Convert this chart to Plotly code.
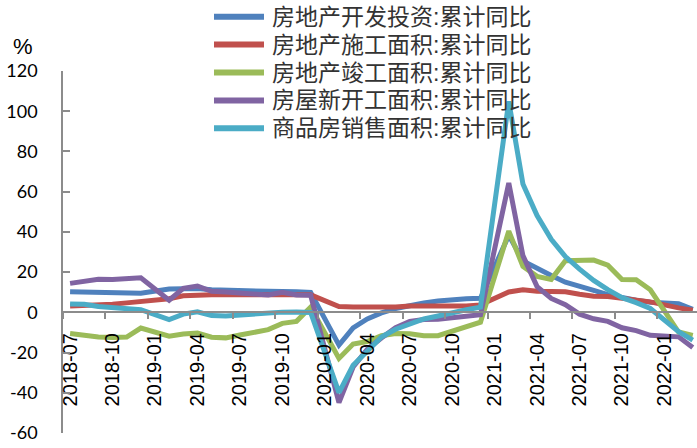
import plotly.graph_objects as go

# Monthly axis categories (January is folded into the Jan-Feb release)
months = [
    "2018-07", "2018-08", "2018-09", "2018-10", "2018-11", "2018-12",
    "2019-01", "2019-02", "2019-03", "2019-04", "2019-05", "2019-06",
    "2019-07", "2019-08", "2019-09", "2019-10", "2019-11", "2019-12",
    "2020-01", "2020-02", "2020-03", "2020-04", "2020-05", "2020-06",
    "2020-07", "2020-08", "2020-09", "2020-10", "2020-11", "2020-12",
    "2021-01", "2021-02", "2021-03", "2021-04", "2021-05", "2021-06",
    "2021-07", "2021-08", "2021-09", "2021-10", "2021-11", "2021-12",
    "2022-01", "2022-02", "2022-03",
]

# Months with a published cumulative figure
data_months = [
    "2018-07", "2018-08", "2018-09", "2018-10", "2018-11", "2018-12",
    "2019-02", "2019-03", "2019-04", "2019-05", "2019-06", "2019-07",
    "2019-08", "2019-09", "2019-10", "2019-11", "2019-12",
    "2020-02", "2020-03", "2020-04", "2020-05", "2020-06", "2020-07",
    "2020-08", "2020-09", "2020-10", "2020-11", "2020-12",
    "2021-02", "2021-03", "2021-04", "2021-05", "2021-06", "2021-07",
    "2021-08", "2021-09", "2021-10", "2021-11", "2021-12",
    "2022-02", "2022-03",
]

# Cumulative year-on-year growth, %
investment = [
    10.2, 10.1, 9.9, 9.7, 9.7, 9.5,
    11.6, 11.8, 11.9, 11.2, 10.9, 10.6, 10.5, 10.5, 10.3, 10.2, 9.9,
    -16.3, -7.7, -3.3, -0.3, 1.9, 3.4, 4.6, 5.6, 6.3, 6.8, 7.0,
    38.3, 25.6, 21.6, 18.3, 15.0, 12.7, 10.9, 8.8, 7.2, 6.0, 5.0,
    4.3, 1.5,
]
under_construction = [
    3.2, 3.4, 3.6, 4.0, 4.7, 5.2,
    6.8, 8.2, 8.8, 8.8, 8.8, 9.0, 8.8, 8.7, 9.0, 8.7, 8.7,
    2.9, 2.6, 2.5, 2.6, 2.6, 3.1, 3.3, 3.1, 3.2, 3.2, 3.7,
    10.1, 11.2, 10.5, 10.1, 10.2, 9.0, 8.0, 7.9, 7.1, 6.0, 5.2,
    2.2, 1.0,
]
completed = [
    -10.5, -11.6, -12.3, -12.5, -12.3, -7.8,
    -11.9, -10.8, -10.3, -12.4, -12.7, -11.3, -10.0, -8.6, -5.5, -4.5, 2.6,
    -22.9, -15.8, -14.5, -11.6, -10.5, -10.7, -11.6, -11.6, -9.2, -7.3, -4.9,
    40.4, 22.9, 17.9, 16.4, 25.7, 25.7, 26.0, 23.4, 16.3, 16.2, 11.2,
    -9.8, -11.5,
]
new_starts = [
    14.4, 15.6, 16.4, 16.3, 16.8, 17.2,
    6.0, 11.9, 13.1, 10.5, 10.1, 9.5, 8.9, 8.6, 10.0, 8.6, 8.5,
    -44.9, -27.2, -18.4, -12.8, -7.6, -4.5, -3.6, -3.4, -2.6, -2.0, -1.2,
    64.3, 28.2, 12.8, 6.9, 3.8, -0.9, -3.2, -4.5, -7.7, -9.1, -11.4,
    -12.2, -17.5,
]
sales_area = [
    4.2, 4.0, 2.9, 2.2, 1.4, 1.3,
    -3.6, -0.9, 0.3, -1.6, -1.8, -1.3, -0.6, -0.1, 0.1, 0.2, -0.1,
    -39.9, -26.3, -19.3, -12.3, -8.4, -5.8, -3.3, -1.8, 0.0, 1.3, 2.6,
    104.9, 63.8, 48.1, 36.3, 27.7, 21.5, 15.9, 11.3, 7.3, 4.8, 1.9,
    -9.6, -13.8,
]

series_names = [
    "房地产开发投资:累计同比",
    "房地产施工面积:累计同比",
    "房地产竣工面积:累计同比",
    "房屋新开工面积:累计同比",
    "商品房销售面积:累计同比",
]
series_values = [investment, under_construction, completed, new_starts, sales_area]
series_colors = ["#4F81BD", "#C0504D", "#9BBB59", "#8064A2", "#4BACC6"]

y_ticks = [-60, -40, -20, 0, 20, 40, 60, 80, 100, 120]
y_tick_labels = [str(v) for v in y_ticks]

W, H = 697, 448
ML, MR, MT, MB = 63, 0, 71, 15
PW, PH = W - ML - MR, H - MT - MB
AXIS_GREY = "#8C8C8C"

fig = go.Figure()
for name, vals, col in zip(series_names, series_values, series_colors):
    fig.add_trace(go.Scatter(
        x=data_months, y=vals, name=name, mode="lines",
        line=dict(color=col, width=5),
        showlegend=False,
    ))


def px_to_paper(px, py):
    return (px - ML) / PW, (H - MB - py) / PH


# Legend: a long swatch and the series name on each row
LEG_FONT = dict(family="Liberation Sans, Noto Sans CJK SC", size=23, color="#333333")
row_y = [16.7, 44.6, 72.5, 100.4, 128.3]
for name, col, ry in zip(series_names, series_colors, row_y):
    x0, yy = px_to_paper(214, ry)
    x1, _ = px_to_paper(264, ry)
    fig.add_shape(type="line", xref="paper", yref="paper",
                  x0=x0, x1=x1, y0=yy, y1=yy,
                  line=dict(color=col, width=6))
    tx, _ = px_to_paper(270, ry)
    fig.add_annotation(xref="paper", yref="paper", x=tx, y=yy,
                       xanchor="left", yanchor="middle", align="left",
                       showarrow=False, text=name, font=LEG_FONT)

# Unit label above the value axis
ux, uy = px_to_paper(23, 46.5)
fig.add_annotation(xref="paper", yref="paper", x=ux, y=uy,
                   xanchor="center", yanchor="middle", showarrow=False,
                   text="%", font=dict(family="Liberation Sans", size=22, color="#000000"))

fig.update_layout(
    width=W, height=H,
    margin=dict(l=ML, r=MR, t=MT, b=MB, pad=0),
    paper_bgcolor="white", plot_bgcolor="white",
    showlegend=False,
    xaxis=dict(
        type="category",
        categoryorder="array", categoryarray=months,
        range=[-0.5, 44.3],
        anchor="free", position=60 / 180,
        showline=True, linecolor=AXIS_GREY, linewidth=1.5,
        ticks="outside", ticklen=6, tickwidth=1.5, tickcolor=AXIS_GREY,
        tickson="boundaries", tickmode="linear", tick0=0, dtick=3,
        tickangle=-90, ticklabelstandoff=12,
        tickfont=dict(family="Liberation Sans", size=20, color="#000000"),
        showgrid=False, zeroline=False,
    ),
    yaxis=dict(
        range=[-60, 120],
        tickmode="array", tickvals=y_ticks, ticktext=y_tick_labels,
        showline=True, linecolor=AXIS_GREY, linewidth=1.5,
        ticks="inside", ticklen=7, tickwidth=1.5, tickcolor=AXIS_GREY,
        ticklabelstandoff=20,
        tickfont=dict(family="Lato", size=18, color="#000000"),
        showgrid=False, zeroline=False,
    ),
)

fig.write_html("out.html")
